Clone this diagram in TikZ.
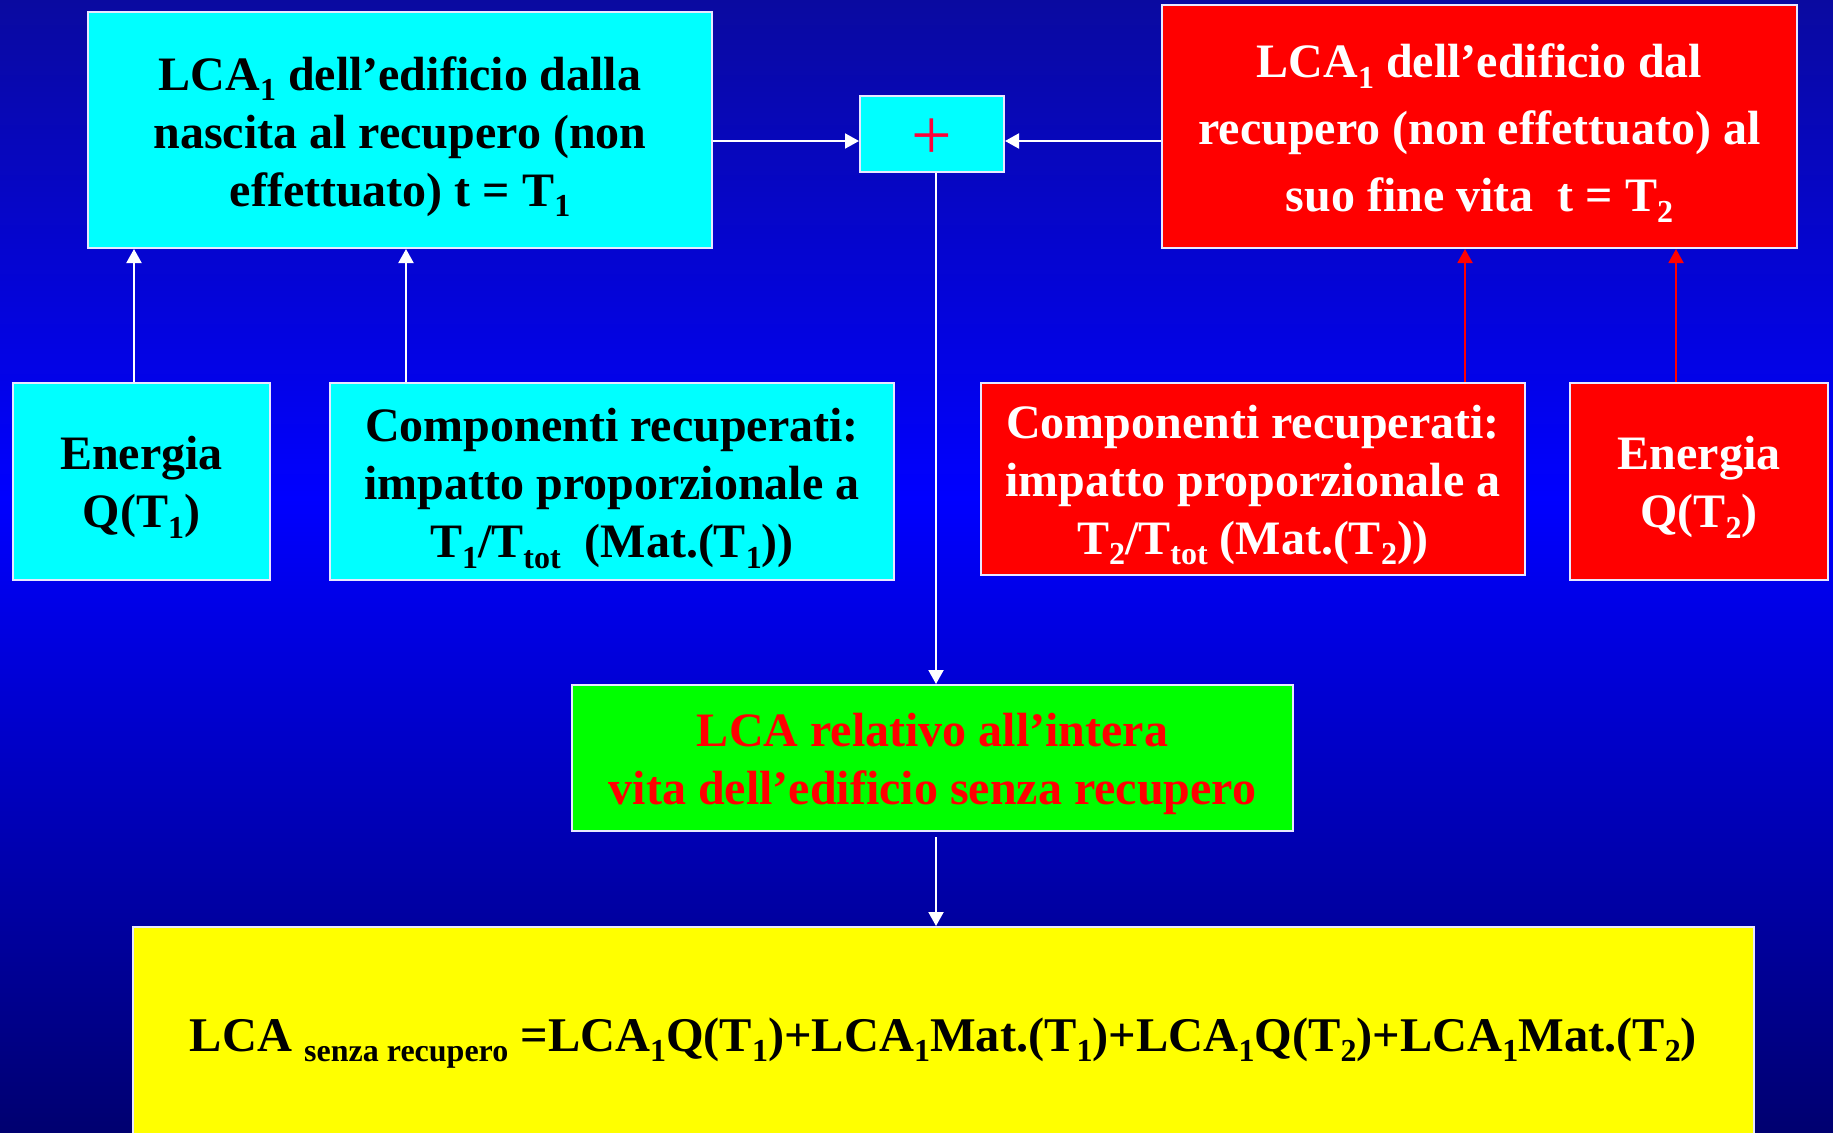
\documentclass[tikz,border=0pt]{standalone}
\usepackage{fontspec}
\setmainfont{Liberation Serif}
\usetikzlibrary{arrows.meta}
\definecolor{bgtop}{HTML}{0A0AA0}
\definecolor{bgmid}{HTML}{0000FF}
\definecolor{bgbot}{HTML}{000070}
\definecolor{boxline}{HTML}{E8E8FF}
\definecolor{plusred}{HTML}{FF0038}
\definecolor{cyanfill}{HTML}{00FFFF}
\definecolor{redfill}{HTML}{FF0000}
\definecolor{greenfill}{HTML}{00FF00}
\definecolor{yellowfill}{HTML}{FFFF00}
\pgfdeclareverticalshading{bgshade}{100bp}{color(0bp)=(bgbot); color(25bp)=(bgbot); color(53bp)=(bgmid); color(75bp)=(bgtop); color(100bp)=(bgtop)}
\newcommand\lo[1]{\raisebox{-0.22em}{\fontsize{32}{32}\selectfont #1}}
\newcommand\up[1]{\rule{0pt}{#1}}
\tikzset{
  box/.style={draw=boxline, line width=2pt, inner sep=0pt, align=center,
    font=\fontsize{48}{58}\selectfont\bfseries},
  cyanbox/.style={box, fill=cyanfill, text=black},
  redbox/.style={box, fill=redfill, text=white},
  greenbox/.style={box, fill=greenfill, text=redfill},
  yellowbox/.style={box, fill=yellowfill, text=black},
  arr/.style={draw=white, line width=2pt, -{Triangle[width=15pt,length=14pt]}},
  rarr/.style={arr, draw=redfill}
}
\begin{document}
\begin{tikzpicture}[x=1pt,y=-1pt]
\path[use as bounding box, clip] (0,0) rectangle (1833,1132);
\shade[shading=bgshade] (0,0) rectangle (1833,1132);

\node[cyanbox, minimum width=624pt, minimum height=236pt] (tl) at (400,130)
  {\up{47pt}LCA\lo{1} dell’edificio dalla\\ nascita al recupero (non\\ effettuato) t = T\lo{1}};
\node[cyanbox, minimum width=144pt, minimum height=76pt] (plus) at (932,134)
  {\up{50pt}\fontsize{72}{72}\selectfont\mdseries\color{plusred}+};
\node[redbox, minimum width=635pt, minimum height=243pt, font=\fontsize{48}{67}\selectfont\bfseries] (tr) at (1479.5,126.5)
  {\up{47pt}LCA\lo{1} dell’edificio dal\\ recupero (non effettuato) al\\ suo fine vita\ \ t = T\lo{2}};

\node[cyanbox, minimum width=257pt, minimum height=197pt] (eL) at (141.5,481.5)
  {\up{45pt}Energia\\ Q(T\lo{1})};
\node[cyanbox, minimum width=564pt, minimum height=197pt] (cL) at (612,481.5)
  {\up{47pt}Componenti recuperati:\\ impatto proporzionale a\\ T\lo{1}/T\lo{tot}\ \ (Mat.(T\lo{1}))};
\node[redbox, minimum width=544pt, minimum height=192pt] (cR) at (1253,479)
  {\up{45pt}Componenti recuperati:\\ impatto proporzionale a\\ T\lo{2}/T\lo{tot} (Mat.(T\lo{2}))};
\node[redbox, minimum width=258pt, minimum height=197pt] (eR) at (1699,481.5)
  {\up{45pt}Energia\\ Q(T\lo{2})};

\node[greenbox, minimum width=721pt, minimum height=146pt] (gr) at (932.5,758)
  {\up{45pt}LCA relativo all’intera\\ vita dell’edificio senza recupero};
\node[yellowbox, minimum width=1621pt, minimum height=213pt, font=\fontsize{48.4}{58}\selectfont\bfseries] (yl) at (943.5,1033.5)
  {\up{53pt}LCA \lo{senza recupero} =LCA\lo{1}Q(T\lo{1})+LCA\lo{1}Mat.(T\lo{1})+LCA\lo{1}Q(T\lo{2})+LCA\lo{1}Mat.(T\lo{2})};

\draw[arr] (eL.north -| 134,0) -- (tl.south -| 134,0);
\draw[arr] (cL.north -| 406,0) -- (tl.south -| 406,0);
\draw[rarr] (cR.north -| 1465,0) -- (tr.south -| 1465,0);
\draw[rarr] (eR.north -| 1676,0) -- (tr.south -| 1676,0);
\draw[arr] (tl.east |- 0,141) -- (plus.west |- 0,141);
\draw[arr] (tr.west |- 0,141) -- (plus.east |- 0,141);
\draw[arr] (plus.south -| 936,0) -- (gr.north -| 936,0);
\draw[arr] ([yshift=-5pt]gr.south -| 936,0) -- (yl.north -| 936,0);
\end{tikzpicture}
\end{document}
